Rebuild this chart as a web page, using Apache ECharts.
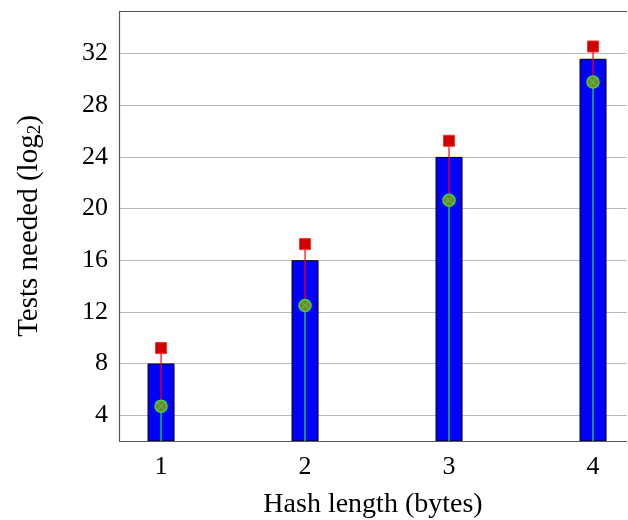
<!DOCTYPE html>
<html lang="en">
<head>
    <meta charset="UTF-8">
    <title>Tests needed</title>
    <script src="https://cdn.jsdelivr.net/npm/echarts@6/dist/echarts.min.js"></script>
</head>
<body style="margin:0">

<div id="main" style="width: 628px;height:520px;"></div>
<script>
    var hashLength = [1, 2, 3, 4];
    var barValues = [8, 16, 24, 31.6];
    var upperValues = [9.2, 17.25, 25.25, 32.55];
    var meanValues = [4.7, 12.5, 20.65, 29.8];
    var yTicks = [4, 8, 12, 16, 20, 24, 28, 32];

    var xMin = 0.708, xMax = 4.236;
    var yMin = 2, yMax = 35.3;
    var font = 'Liberation Serif';

    var myChart = echarts.init(document.getElementById('main'));

    var crossPath = 'path://M0,0L10,10M10,0L0,10';

    myChart.setOption({
        animation: false,
        grid: {left: 119, top: 11, right: 1, height: 430, outerBoundsMode: 'none'},
        xAxis: {
            type: 'value',
            min: xMin,
            max: xMax,
            name: 'Hash length (bytes)',
            nameLocation: 'middle',
            nameGap: 50,
            nameTextStyle: {fontFamily: font, fontSize: 28, color: '#000'},
            axisLine: {show: false},
            axisTick: {show: false, customValues: hashLength},
            axisLabel: {customValues: hashLength, fontFamily: font, fontSize: 26, color: '#000', margin: 13},
            splitLine: {show: false}
        },
        yAxis: {
            type: 'value',
            min: yMin,
            max: yMax,
            name: '{t|Tests needed (log}{s|2}{t|)}',
            nameLocation: 'middle',
            nameGap: 74,
            nameTextStyle: {
                rich: {
                    t: {fontFamily: font, fontSize: 29, color: '#000'},
                    s: {fontFamily: font, fontSize: 19, color: '#000', padding: [12, 0, 0, 0]}
                }
            },
            axisLine: {show: false},
            axisTick: {show: false, customValues: yTicks},
            axisLabel: {customValues: yTicks, fontFamily: font, fontSize: 26, color: '#000', margin: 11},
            splitLine: {show: true, lineStyle: {color: '#b8b8b8', width: 1}}
        },
        series: [
            {
                type: 'bar',
                barWidth: 27,
                data: hashLength.map(function (x, i) { return [x, barValues[i]]; }),
                itemStyle: {color: '#0000ff', borderColor: '#000', borderWidth: 1},
                markLine: {
                    silent: true,
                    symbol: 'none',
                    label: {show: false},
                    lineStyle: {color: '#555', width: 1.2, type: 'solid'},
                    data: [
                        [{coord: [xMin, yMin]}, {coord: [xMax, yMin]}],
                        [{coord: [xMin, yMax]}, {coord: [xMax, yMax]}],
                        [{coord: [xMin, yMin]}, {coord: [xMin, yMax]}]
                    ]
                }
            },
            {
                type: 'custom',
                data: hashLength.map(function (x, i) { return [x, meanValues[i], upperValues[i]]; }),
                renderItem: function (params, api) {
                    var base = api.coord([api.value(0), yMin]);
                    var mid = api.coord([api.value(0), api.value(1)]);
                    var top = api.coord([api.value(0), api.value(2)]);
                    return {
                        type: 'group',
                        children: [
                            {type: 'line', shape: {x1: base[0], y1: base[1], x2: mid[0], y2: mid[1]}, style: {stroke: '#22ee22', lineWidth: 1.2}},
                            {type: 'line', shape: {x1: mid[0], y1: mid[1], x2: top[0], y2: top[1]}, style: {stroke: '#ff0000', lineWidth: 1.2}}
                        ]
                    };
                },
                z: 3
            },
            {
                type: 'scatter',
                symbol: 'rect',
                symbolSize: 11,
                data: hashLength.map(function (x, i) { return [x, upperValues[i]]; }),
                itemStyle: {color: '#d00000', borderColor: '#ff3030', borderWidth: 1, opacity: 1},
                z: 4
            },
            {
                type: 'scatter',
                symbol: 'circle',
                symbolSize: 12,
                data: hashLength.map(function (x, i) { return [x, meanValues[i]]; }),
                itemStyle: {color: '#8a7a30', borderColor: '#33e033', borderWidth: 1.5, opacity: 1},
                z: 5
            },
            {
                type: 'scatter',
                symbol: crossPath,
                symbolSize: 7,
                data: hashLength.map(function (x, i) { return [x, meanValues[i]]; }),
                itemStyle: {color: 'none', borderColor: '#33cc33', borderWidth: 1.3, opacity: 1},
                z: 6
            }
        ]
    });
</script>
</body>
</html>
